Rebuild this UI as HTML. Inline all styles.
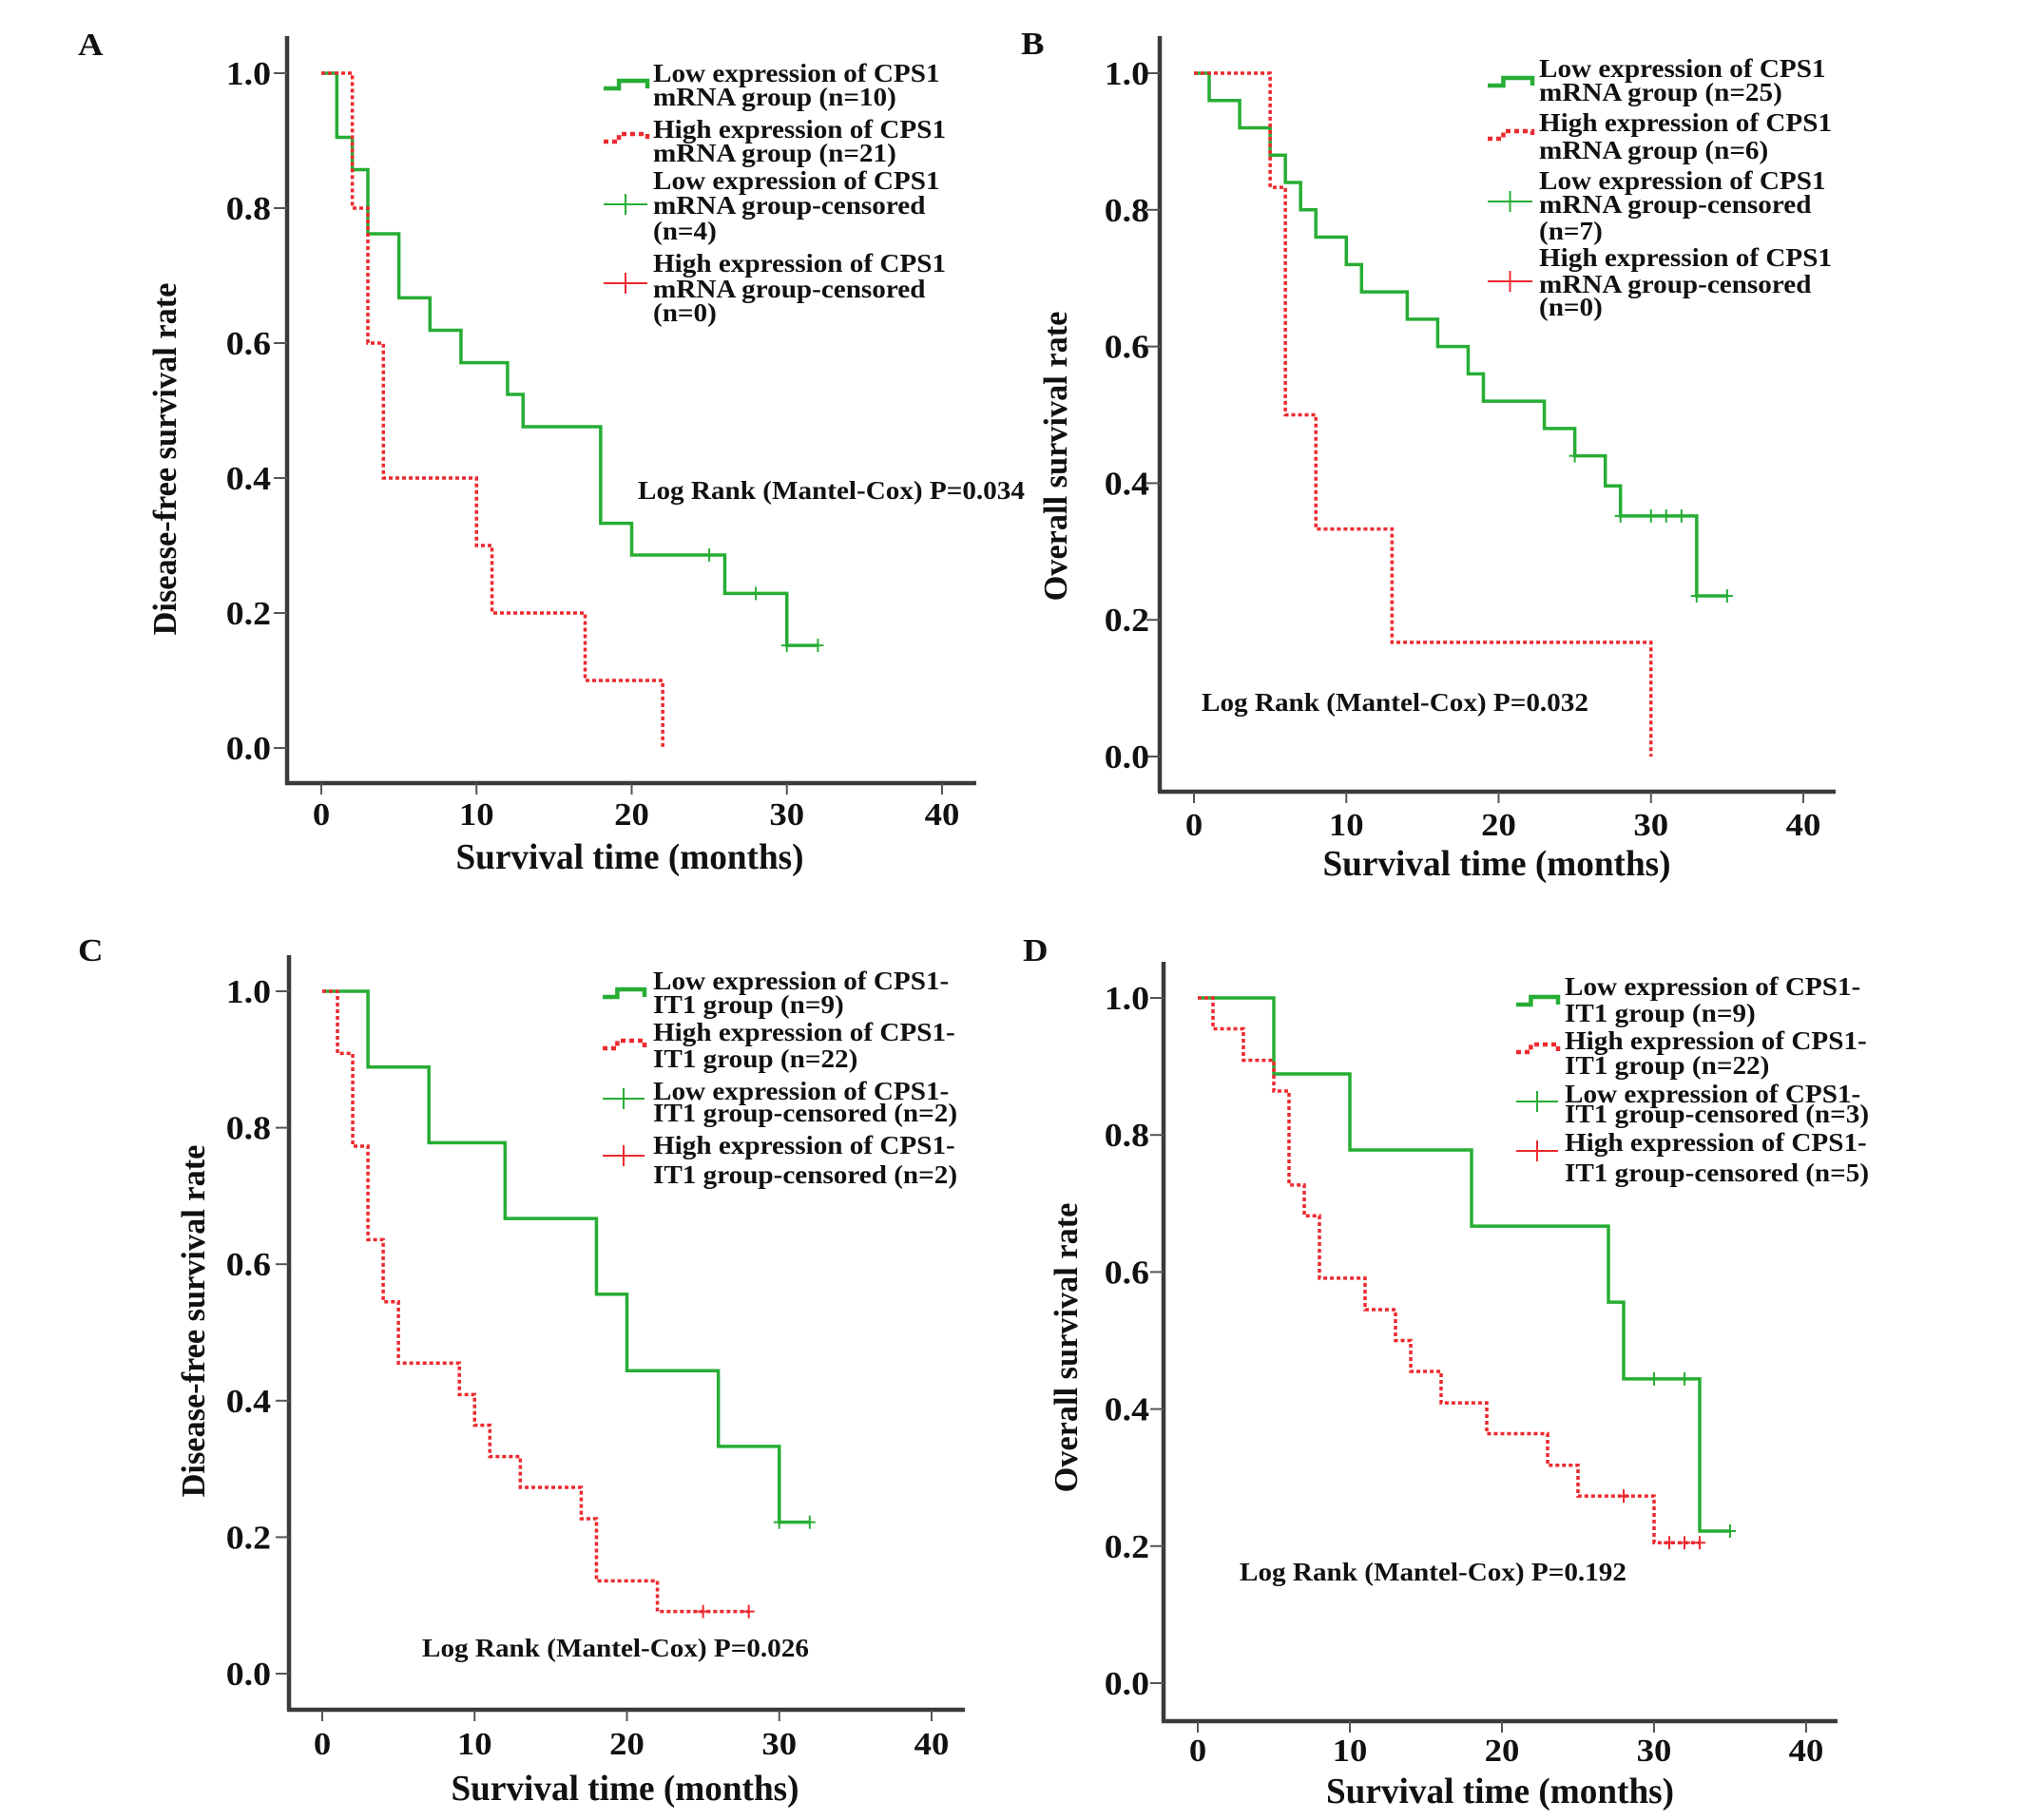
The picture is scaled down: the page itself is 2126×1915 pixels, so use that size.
<!DOCTYPE html>
<html><head><meta charset="utf-8">
<style>
html,body{margin:0;padding:0;background:#fff;}
svg{display:block;}
text{font-family:"Liberation Serif",serif;font-weight:bold;fill:#111;}
</style></head>
<body>
<svg id="fig" width="2126" height="1915" viewBox="0 0 2126 1915" xmlns="http://www.w3.org/2000/svg"></svg>
<script>
// ---- data arrays ----
const xTicks = [0, 10, 20, 30, 40];
const yTicks = [0.0, 0.2, 0.4, 0.6, 0.8, 1.0];
const yTickLabels = ["0.0","0.2","0.4","0.6","0.8","1.0"];

const aLowTimes = [1,2,3,5,7,9,12,13,18,20,26,30];
const aLowSurv  = [0.905,0.857,0.762,0.667,0.619,0.571,0.524,0.476,0.333,0.286,0.229,0.152];
const aLowCens  = [25,28,30,32];
const aLowEnd = 32;
const aHighTimes = [2,3,4,10,11,17,22];
const aHighSurv  = [0.8,0.6,0.4,0.3,0.2,0.1,0.0];
const aHighCens = [];
const aHighEnd = 22;

const bLowTimes = [1,3,5,6,7,8,10,11,14,16,18,19,23,25,27,28,33];
const bLowSurv  = [0.96,0.92,0.88,0.84,0.80,0.76,0.72,0.68,0.64,0.60,0.56,0.52,0.48,0.44,0.396,0.352,0.235];
const bLowCens  = [25,28,30,31,32,33,35];
const bLowEnd = 35;
const bHighTimes = [5,6,8,13,30];
const bHighSurv  = [0.833,0.5,0.333,0.167,0.0];
const bHighCens = [];
const bHighEnd = 30;

const cLowTimes = [3,7,12,18,20,26,30];
const cLowSurv  = [0.889,0.778,0.667,0.556,0.444,0.333,0.222];
const cLowCens  = [30,32];
const cLowEnd = 32;
const cHighTimes = [1,2,3,4,5,9,10,11,13,17,18,22];
const cHighSurv  = [0.909,0.773,0.636,0.545,0.455,0.409,0.364,0.318,0.273,0.227,0.136,0.091];
const cHighCens = [25,28];
const cHighEnd = 28;

const dLowTimes = [5,10,18,27,28,33];
const dLowSurv  = [0.889,0.778,0.667,0.556,0.444,0.222];
const dLowCens  = [30,32,35];
const dLowEnd = 35;
const dHighTimes = [1,3,5,6,7,8,11,13,14,16,19,23,25,30];
const dHighSurv  = [0.955,0.909,0.864,0.727,0.682,0.591,0.545,0.5,0.455,0.409,0.364,0.318,0.273,0.205];
const dHighCens = [28,31,32,33];
const dHighEnd = 33;

const GREEN = "#27ad34", RED = "#ec2a2f";
const SX = 1.08;
const NS = "http://www.w3.org/2000/svg";
const svg = document.getElementById('fig');

function mk(tag, attrs, parent){
  const e = document.createElementNS(NS, tag);
  for (const k in attrs) e.setAttribute(k, attrs[k]);
  (parent || svg).appendChild(e);
  return e;
}
function txt(s, x, y, size, parent, anchor, rot, sxv){
  const t = mk('text', {x:0, y:0, 'font-size':size, 'text-anchor':anchor||'start',
    transform:'translate(' + x + ',' + y + ')' + (rot ? ' rotate(' + rot + ')' : '') + ' scale(' + (sxv||SX) + ',1)'}, parent);
  t.textContent = s;
  return t;
}

const panels = [
 {id:'a', letter:'A', lx:82, ly:58, axX:302, axTop:38, axY:824, axEnd:1027, x0:338, x40:991, y1:77, y0:787,
  tickBase:868, titleBase:914, yLabR:285, yTitleX:173, yTitleY:483, yTitle:'Disease-free survival rate',
  pX:671, pY:525, p:'Log Rank (Mantel-Cox) P=0.034',
  legX:687, legSx:[635,681], legBases:[86,111,145,170,199,225,252,286,313,338],
  legLines:['Low expression of CPS1','mRNA group (n=10)','High expression of CPS1','mRNA group (n=21)','Low expression of CPS1','mRNA group-censored','(n=4)','High expression of CPS1','mRNA group-censored','(n=0)'],
  sampY:[89,145,215,298],
  low:[aLowTimes,aLowSurv,aLowCens,aLowEnd], high:[aHighTimes,aHighSurv,aHighCens,aHighEnd]},
 {id:'b', letter:'B', lx:1074, ly:57, axX:1220, axTop:38, axY:833, axEnd:1931, x0:1256, x40:1897, y1:77, y0:796,
  tickBase:879, titleBase:921, yLabR:1209, yTitleX:1110, yTitleY:480, yTitle:'Overall survival rate',
  pX:1264, pY:748, p:'Log Rank (Mantel-Cox) P=0.032',
  legX:1619, legSx:[1565,1612], legBases:[81,106,138,167,199,224,252,280,308,332],
  legLines:['Low expression of CPS1','mRNA group (n=25)','High expression of CPS1','mRNA group (n=6)','Low expression of CPS1','mRNA group-censored','(n=7)','High expression of CPS1','mRNA group-censored','(n=0)'],
  sampY:[86,142,212,296],
  low:[bLowTimes,bLowSurv,bLowCens,bLowEnd], high:[bHighTimes,bHighSurv,bHighCens,bHighEnd]},
 {id:'c', letter:'C', lx:82, ly:1011, axX:304, axTop:1005, axY:1799, axEnd:1015, x0:339, x40:980, y1:1043, y0:1761,
  tickBase:1846, titleBase:1894, yLabR:285, yTitleX:203, yTitleY:1390, yTitle:'Disease-free survival rate',
  pX:444, pY:1743, p:'Log Rank (Mantel-Cox) P=0.026',
  legX:687, legSx:[634,678], legBases:[1041,1066,1095,1123,1157,1180,1214,1245],
  legLines:['Low expression of CPS1-','IT1 group (n=9)','High expression of CPS1-','IT1 group (n=22)','Low expression of CPS1-','IT1 group-censored (n=2)','High expression of CPS1-','IT1 group-censored (n=2)'],
  sampY:[1045,1099,1156,1216],
  low:[cLowTimes,cLowSurv,cLowCens,cLowEnd], high:[cHighTimes,cHighSurv,cHighCens,cHighEnd]},
 {id:'d', letter:'D', lx:1076, ly:1011, axX:1224, axTop:1012, axY:1811, axEnd:1933, x0:1260, x40:1900, y1:1050, y0:1771,
  tickBase:1853, titleBase:1897, yLabR:1209, yTitleX:1121, yTitleY:1418, yTitle:'Overall survival rate',
  pX:1304, pY:1663, p:'Log Rank (Mantel-Cox) P=0.192',
  legX:1646, legSx:[1595,1639], legBases:[1047,1075,1104,1130,1160,1181,1211,1243],
  legLines:['Low expression of CPS1-','IT1 group (n=9)','High expression of CPS1-','IT1 group (n=22)','Low expression of CPS1-','IT1 group-censored (n=3)','High expression of CPS1-','IT1 group-censored (n=5)'],
  sampY:[1053,1103,1159,1211],
  low:[dLowTimes,dLowSurv,dLowCens,dLowEnd], high:[dHighTimes,dHighSurv,dHighCens,dHighEnd]}
];

function drawCurve(g, P, series, color, dashed, name){
  const sx = t => P.x0 + (P.x40 - P.x0) * t / 40;
  const sy = v => P.y0 - (P.y0 - P.y1) * v;
  const [times, surv, cens, end] = series;
  let d = 'M' + sx(0) + ' ' + sy(1);
  for (let i = 0; i < times.length; i++){
    d += ' H' + sx(times[i]) + ' V' + sy(surv[i]);
  }
  if (end > (times.length ? times[times.length-1] : 0)) d += ' H' + sx(end);
  const p = mk('path', {d:d, fill:'none', stroke:color, 'stroke-width':3.5, 'stroke-dasharray': dashed ? '4 3' : 'none'}, g);
  
  
  cens.forEach(c => {
    let v = 1;
    for (let i = 0; i < times.length; i++){ if (times[i] <= c) v = surv[i]; }
    const m = mk('path', {d:'M'+sx(c)+' '+(sy(v)-7)+' V'+(sy(v)+7)+' M'+(sx(c)-6)+' '+sy(v)+' H'+(sx(c)+6), stroke:color, 'stroke-width':2, fill:'none'}, g);
    
    
  });
}

panels.forEach(P => {
  const g = mk('g', {});
  
  
  const sx = t => P.x0 + (P.x40 - P.x0) * t / 40;
  const sy = v => P.y0 - (P.y0 - P.y1) * v;

  const L = txt(P.letter, P.lx, P.ly, 34, g);
  
  

  const ya = mk('line', {x1:P.axX, y1:P.axTop, x2:P.axX, y2:P.axY, stroke:'#3a3a3a', 'stroke-width':4.5}, g);
  
  
  const xa = mk('line', {x1:P.axX-2, y1:P.axY, x2:P.axEnd, y2:P.axY, stroke:'#3a3a3a', 'stroke-width':4.5}, g);
  
  

  xTicks.forEach(t => {
    const tk = mk('line', {x1:sx(t), y1:P.axY, x2:sx(t), y2:P.axY+12, stroke:'#555', 'stroke-width':2}, g);
    
    
    const tl = txt(String(t), sx(t), P.tickBase, 34, g, 'middle');
    
    
  });
  yTicks.forEach((v, i) => {
    const tk = mk('line', {x1:P.axX-14, y1:sy(v), x2:P.axX, y2:sy(v), stroke:'#555', 'stroke-width':2}, g);
    
    
    const tl = txt(yTickLabels[i], P.yLabR, sy(v)+12, 35, g, 'end');
    
    
  });

  const xt = txt('Survival time (months)', (P.x0+P.x40)/2 - 2, P.titleBase, 38, g, 'middle', 0, 0.98);
  
  
  const yt = txt(P.yTitle, P.yTitleX+12, P.yTitleY, 35, g, 'middle', -90, 0.98);
  
  

  drawCurve(g, P, P.low, GREEN, false, 'low-expression');
  drawCurve(g, P, P.high, RED, true, 'high-expression');

  const pt = txt(P.p, P.pX, P.pY, 27, g);
  
  

  const lg = mk('g', {}, g);
  
  
  const [a, b] = P.legSx;
  const s1 = mk('path', {d:'M'+a+' '+(P.sampY[0]+4)+' H'+(a+(b-a)*0.35)+' V'+(P.sampY[0]-4)+' H'+b+' V'+(P.sampY[0]+4), fill:'none', stroke:GREEN, 'stroke-width':4.5}, lg);
  
  
  const s2 = mk('path', {d:'M'+a+' '+(P.sampY[1]+4)+' H'+(a+(b-a)*0.35)+' V'+(P.sampY[1]-4)+' H'+b+' V'+(P.sampY[1]+4), fill:'none', stroke:RED, 'stroke-width':4.5, 'stroke-dasharray':'5 4'}, lg);
  
  
  [[P.sampY[2], GREEN], [P.sampY[3], RED]].forEach(([yy, col]) => {
    const s = mk('path', {d:'M'+a+' '+yy+' H'+b+' M'+((a+b)/2)+' '+(yy-11)+' V'+(yy+11), fill:'none', stroke:col, 'stroke-width':2}, lg);
    
    
  });
  P.legLines.forEach((s, i) => {
    const t = txt(s, P.legX, P.legBases[i], 27, lg);
    
    
  });
});
</script>
</body></html>
